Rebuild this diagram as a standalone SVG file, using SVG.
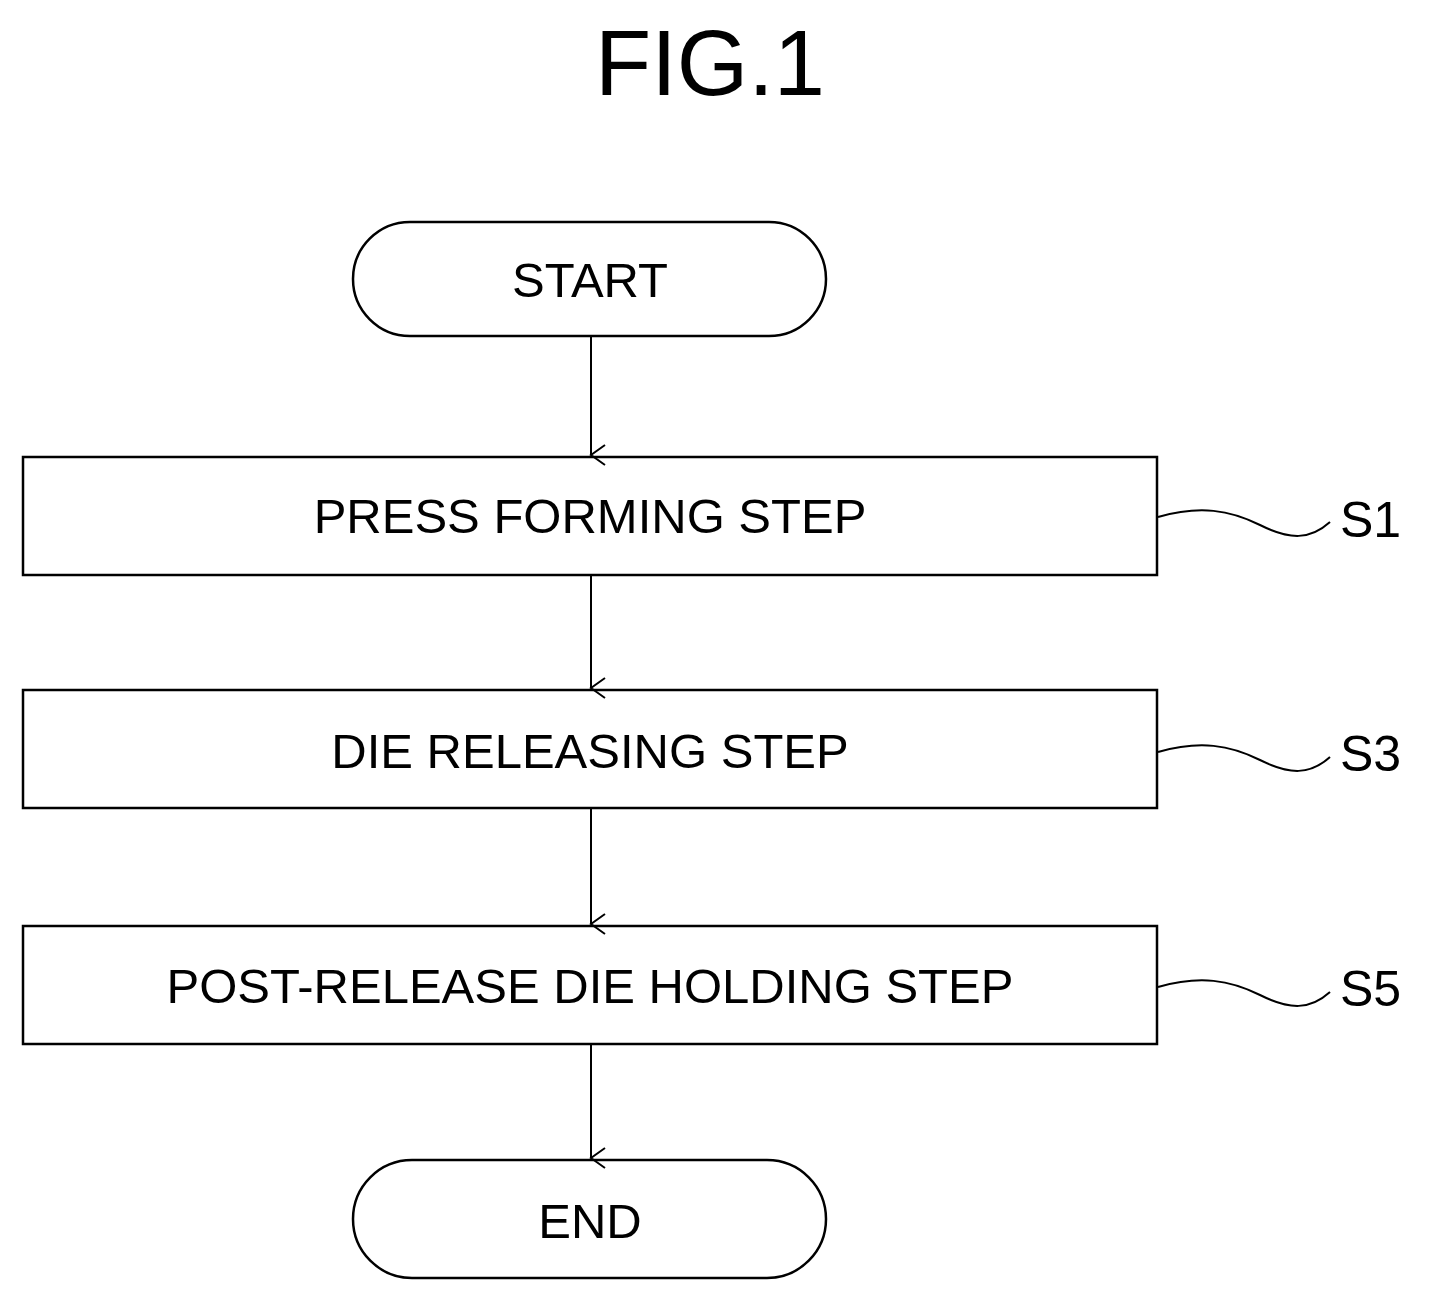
<svg xmlns="http://www.w3.org/2000/svg" width="1430" height="1304" viewBox="0 0 1430 1304">
<style>
.s{fill:#fff;stroke:#000;stroke-width:2.5}
.t{font-family:"Liberation Sans",Arial,sans-serif;font-size:49px;text-anchor:middle;fill:#000}
.c{fill:none;stroke:#000;stroke-width:2}
.l{font-family:"Liberation Sans",Arial,sans-serif;font-size:50px;fill:#000}
</style>
<defs><marker id="a" markerWidth="24" markerHeight="24" refX="11" refY="20" orient="auto" markerUnits="userSpaceOnUse" viewBox="0 0 24 24"><path d="M1 6 L11 20 L21 6" fill="none" stroke="#000" stroke-width="2"/></marker></defs>
<rect width="1430" height="1304" fill="#fff"/>
<text x="710" y="95" font-family="Liberation Sans,Arial,sans-serif" font-size="92" text-anchor="middle">FIG.1</text>
<g id="start"><rect class="s" x="353" y="222" width="473" height="114" rx="57"/><text class="t" x="590" y="297">START</text></g>
<g id="s1"><rect class="s" x="23" y="457" width="1134" height="118"/><text class="t" x="590" y="533">PRESS FORMING STEP</text><text class="l" x="1340" y="537">S1</text></g>
<g id="s3"><rect class="s" x="23" y="690" width="1134" height="118"/><text class="t" x="590" y="768">DIE RELEASING STEP</text><text class="l" x="1340" y="771">S3</text></g>
<g id="s5"><rect class="s" x="23" y="926" width="1134" height="118"/><text class="t" x="590" y="1003">POST-RELEASE DIE HOLDING STEP</text><text class="l" x="1340" y="1006">S5</text></g>
<g id="end"><rect class="s" x="353" y="1160" width="473" height="118" rx="59"/><text class="t" x="590" y="1238">END</text></g>
<g id="connectors">
<line class="c" x1="591" y1="337" x2="591" y2="455" marker-end="url(#a)"/>
<line class="c" x1="591" y1="576" x2="591" y2="688" marker-end="url(#a)"/>
<line class="c" x1="591" y1="809" x2="591" y2="924" marker-end="url(#a)"/>
<line class="c" x1="591" y1="1045" x2="591" y2="1158" marker-end="url(#a)"/>
<path class="c" d="M1158 517 C1200 505,1230 510,1260 525 S1310 540,1330 522"/>
<path class="c" d="M1158 752 C1200 740,1230 745,1260 760 S1310 775,1330 757"/>
<path class="c" d="M1158 987 C1200 975,1230 980,1260 995 S1310 1010,1330 992"/>
</g>
</svg>
